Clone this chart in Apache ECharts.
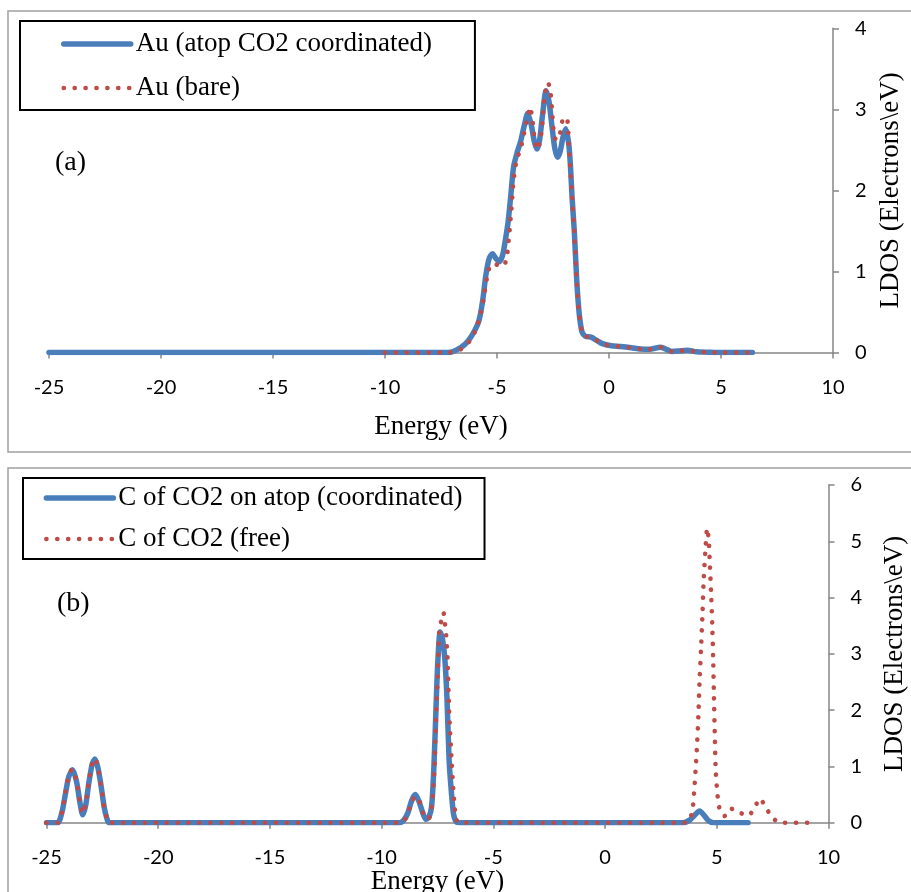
<!DOCTYPE html>
<html>
<head>
<meta charset="utf-8">
<script src="https://cdn.jsdelivr.net/npm/echarts@6/dist/echarts.min.js"></script>
<style>
html,body{margin:0;padding:0;background:#fff;}
#chart{width:911px;height:892px;}
</style>
</head>
<body>
<div id="chart"></div>
<script>
// ---- Data ----
const energyTicks = [-25, -20, -15, -10, -5, 0, 5, 10];
const ldosTicksA = [0, 1, 2, 3, 4];
const ldosTicksB = [0, 1, 2, 3, 4, 5, 6];

// Panel (a): Au (atop CO2 coordinated)
const auEnergyCoord = [-25, -7.4, -7.0, -6.6, -6.3, -6.0, -5.8, -5.64, -5.5, -5.35, -5.2, -5.05, -4.9, -4.75, -4.62, -4.5, -4.38, -4.26, -4.1, -3.95, -3.8, -3.63, -3.48, -3.33, -3.21, -3.1, -2.98, -2.81, -2.68, -2.55, -2.42, -2.3, -2.18, -2.06, -1.93, -1.8, -1.72, -1.65, -1.55, -1.44, -1.33, -1.2, -1.05, -0.8, -0.55, -0.3, 0.1, 0.5, 1.0, 1.4, 1.8, 2.3, 2.8, 3.1, 3.5, 3.9, 4.4, 5.0, 6.4];
const auLdosCoord = [0, 0, 0.01, 0.065, 0.14, 0.27, 0.4, 0.64, 0.95, 1.16, 1.22, 1.16, 1.12, 1.2, 1.4, 1.62, 1.95, 2.29, 2.47, 2.6, 2.78, 2.95, 2.82, 2.6, 2.51, 2.62, 2.9, 3.23, 3.1, 2.8, 2.52, 2.41, 2.48, 2.65, 2.76, 2.58, 2.3, 1.92, 1.5, 0.89, 0.48, 0.25, 0.2, 0.19, 0.15, 0.11, 0.085, 0.075, 0.06, 0.045, 0.04, 0.066, 0.015, 0.02, 0.03, 0.01, 0.005, 0, 0];

// Panel (a): Au (bare)
const auEnergyBare = [-10, -7.2, -6.8, -6.5, -6.2, -5.95, -5.75, -5.6, -5.45, -5.32, -5.15, -4.97, -4.8, -4.67, -4.55, -4.45, -4.36, -4.26, -4.12, -3.95, -3.78, -3.63, -3.53, -3.43, -3.32, -3.2, -3.1, -3.0, -2.88, -2.72, -2.6, -2.52, -2.44, -2.32, -2.2, -2.08, -1.96, -1.86, -1.78, -1.72, -1.65, -1.55, -1.44, -1.33, -1.2, -1.05, -0.8, -0.55, -0.3, 0.1, 0.5, 1.0, 1.4, 1.8, 2.3, 2.8, 3.1, 3.5, 3.9, 4.4, 5.0, 6.4];
const auLdosBare = [0, 0, 0.02, 0.06, 0.15, 0.28, 0.45, 0.66, 0.92, 1.06, 1.1, 1.08, 1.07, 1.08, 1.2, 1.47, 1.75, 2.13, 2.38, 2.51, 2.72, 2.9, 3.03, 2.9, 2.63, 2.5, 2.58, 2.75, 3.15, 3.33, 3.18, 2.9, 2.66, 2.62, 2.68, 2.86, 2.9, 2.88, 2.5, 2.25, 1.92, 1.5, 0.89, 0.48, 0.25, 0.2, 0.19, 0.15, 0.11, 0.085, 0.075, 0.06, 0.045, 0.04, 0.066, 0.015, 0.02, 0.03, 0.01, 0.005, 0, 0];

// Panel (b): C of CO2 on atop (coordinated)
const cEnergyCoord = [-25, -24.5, -24.3, -24.15, -24.0, -23.83, -23.65, -23.5, -23.38, -23.25, -23.1, -22.95, -22.83, -22.7, -22.6, -22.5, -22.42, -22.3, -22.2, -9.2, -9.0, -8.83, -8.65, -8.49, -8.33, -8.18, -8.02, -7.88, -7.76, -7.66, -7.57, -7.49, -7.38, -7.28, -7.18, -7.08, -6.98, -6.88, -6.78, -6.65, -6.5, 3.5, 3.8, 4.0, 4.23, 4.45, 4.65, 4.85, 6.4];
const cLdosCoord = [0, 0, 0.2, 0.52, 0.82, 0.94, 0.72, 0.35, 0.14, 0.3, 0.72, 1.05, 1.13, 0.98, 0.76, 0.5, 0.28, 0.08, 0, 0, 0.05, 0.17, 0.4, 0.5, 0.38, 0.2, 0.06, 0.1, 0.3, 1.0, 2.0, 2.83, 3.39, 3.27, 2.95, 2.25, 1.11, 0.55, 0.15, 0.01, 0, 0, 0.05, 0.13, 0.21, 0.12, 0.03, 0, 0];

// Panel (b): C of CO2 (free)
const cEnergyFree = [-25, -24.5, -24.3, -24.15, -24.0, -23.85, -23.65, -23.5, -23.38, -23.25, -23.1, -22.95, -22.82, -22.7, -22.6, -22.5, -22.42, -22.3, -22.2, -9.2, -9.0, -8.83, -8.65, -8.45, -8.3, -8.15, -8.0, -7.85, -7.74, -7.64, -7.57, -7.49, -7.42, -7.32, -7.23, -7.17, -7.12, -7.05, -6.98, -6.87, -6.78, -6.68, -6.55, 3.6, 3.79, 3.92, 4.0, 4.06, 4.12, 4.18, 4.23, 4.3, 4.36, 4.41, 4.49, 4.57, 4.64, 4.68, 4.75, 4.8, 4.84, 4.87, 4.91, 4.95, 5.01, 5.07, 5.16, 5.35, 5.61, 6.03, 6.38, 6.68, 6.92, 7.19, 7.43, 7.82, 9.3];
const cLdosFree = [0, 0, 0.2, 0.55, 0.84, 0.95, 0.72, 0.36, 0.16, 0.32, 0.74, 1.06, 1.14, 0.98, 0.76, 0.5, 0.28, 0.08, 0, 0, 0.04, 0.15, 0.38, 0.47, 0.38, 0.18, 0.06, 0.1, 0.35, 0.93, 1.82, 2.6, 3.43, 3.6, 3.73, 3.54, 3.37, 2.9, 2.0, 1.1, 0.52, 0.1, 0, 0, 0.06, 0.24, 0.63, 0.99, 1.41, 1.94, 2.53, 3.13, 3.72, 4.28, 4.84, 5.23, 5.02, 4.67, 4.04, 3.48, 2.89, 2.3, 1.56, 0.94, 0.58, 0.37, 0.2, 0.12, 0.25, 0.18, 0.12, 0.25, 0.43, 0.28, 0.12, 0, 0];

const names = {
  auCoord: 'Au (atop CO2 coordinated)',
  auBare: 'Au (bare)',
  cCoord: 'C of CO2 on atop (coordinated)',
  cFree: 'C of CO2 (free)'
};

// ---- Build ----
const zip = (xs, ys) => xs.map((x, i) => [x, ys[i]]);
const BLUE = '#4A7EBB', RED = '#BE4B48', AXIS = '#868686';
const SERIF = '"Liberation Serif", "Times New Roman", serif';
const SANS = 'Lato, "Liberation Sans", sans-serif';
const SOLID_W = 5.5, DOT_W = 4.6, DOT_DASH = [0.1, 10.8];

function xAxis(gi, nameGap, margin) {
  return {
    gridIndex: gi, type: 'value',
    min: energyTicks[0], max: energyTicks[energyTicks.length - 1],
    interval: energyTicks[1] - energyTicks[0],
    axisLine: {show: true, onZero: false, lineStyle: {color: AXIS, width: 1.5}},
    axisTick: {show: true, length: 6, lineStyle: {color: AXIS, width: 1.5}},
    axisLabel: {fontFamily: SANS, fontSize: 20, color: '#000', margin: margin},
    splitLine: {show: false},
    name: 'Energy (eV)', nameLocation: 'middle', nameGap: nameGap,
    nameTextStyle: {fontFamily: SERIF, fontSize: 27, color: '#000'}
  };
}
function yAxis(gi, ticks, nameGap, margin) {
  return {
    gridIndex: gi, type: 'value', position: 'right',
    min: ticks[0], max: ticks[ticks.length - 1], interval: ticks[1] - ticks[0],
    axisLine: {show: true, onZero: false, lineStyle: {color: AXIS, width: 1.5}},
    axisTick: {show: true, length: 6, lineStyle: {color: AXIS, width: 1.5}},
    axisLabel: {fontFamily: SANS, fontSize: 20, color: '#000', margin: margin},
    splitLine: {show: false},
    name: 'LDOS (Electrons\\eV)', nameLocation: 'middle', nameGap: nameGap,
    nameTextStyle: {fontFamily: SERIF, fontSize: 27, color: '#000'}
  };
}
function solid(name, gi, data) {
  return {
    name: name, type: 'line', xAxisIndex: gi, yAxisIndex: gi,
    data: data, symbol: 'none', smooth: 0.25,
    lineStyle: {color: BLUE, width: SOLID_W, cap: 'round', join: 'round'},
    itemStyle: {color: BLUE}
  };
}
function dotted(name, gi, data) {
  return {
    name: name, type: 'line', xAxisIndex: gi, yAxisIndex: gi,
    data: data, symbol: 'none', smooth: 0.25,
    lineStyle: {color: RED, width: DOT_W, type: DOT_DASH, cap: 'round', join: 'round'},
    itemStyle: {color: RED}
  };
}
function legend(solidName, dottedName, left, top, padding, gap) {
  return {
    data: [
      {name: solidName, lineStyle: {width: SOLID_W, color: BLUE, type: 'solid', cap: 'round'}},
      {name: dottedName, lineStyle: {width: DOT_W, color: RED, type: DOT_DASH, cap: 'round'}}
    ],
    orient: 'vertical', left: left, top: top, padding: padding, itemGap: gap,
    itemWidth: 67, itemHeight: 14, borderColor: '#000', borderWidth: 2,
    backgroundColor: '#fff',
    itemStyle: {opacity: 0},
    textStyle: {fontFamily: SERIF, fontSize: 27, color: '#000'}
  };
}

const option = {
  animation: false,
  backgroundColor: '#fff',
  grid: [
    {left: 49, right: 78, top: 28.3, height: 324.3, outerBoundsMode: 'none', containLabel: false},
    {left: 46.5, right: 82.5, top: 485, height: 337.7, outerBoundsMode: 'none', containLabel: false}
  ],
  xAxis: [xAxis(0, 61, 25), xAxis(1, 44, 25)],
  yAxis: [yAxis(0, ldosTicksA, 42, 22), yAxis(1, ldosTicksB, 53, 22)],
  legend: [
    legend(names.auCoord, names.auBare, 20, 21, [9.5, 43, 8.5, 41], 17),
    legend(names.cCoord, names.cFree, 23, 478, [6.5, 22, 6.5, 20.6], 14)
  ],
  graphic: [
    {type: 'rect', silent: true, z: -10, shape: {x: 8, y: 11, width: 950, height: 441},
     style: {fill: 'none', stroke: '#a0a0a0', lineWidth: 1.5}},
    {type: 'rect', silent: true, z: -10, shape: {x: 8, y: 468, width: 950, height: 500},
     style: {fill: 'none', stroke: '#a0a0a0', lineWidth: 1.5}},
    {type: 'text', silent: true, x: 55, y: 163,
     style: {text: '(a)', font: '28px "Liberation Serif"', fill: '#000', verticalAlign: 'middle'}},
    {type: 'text', silent: true, x: 57, y: 604,
     style: {text: '(b)', font: '28px "Liberation Serif"', fill: '#000', verticalAlign: 'middle'}}
  ],
  series: [
    solid(names.auCoord, 0, zip(auEnergyCoord, auLdosCoord)),
    dotted(names.auBare, 0, zip(auEnergyBare, auLdosBare)),
    solid(names.cCoord, 1, zip(cEnergyCoord, cLdosCoord)),
    dotted(names.cFree, 1, zip(cEnergyFree, cLdosFree))
  ]
};

const chart = echarts.init(document.getElementById('chart'), null, {renderer: 'canvas'});
chart.setOption(option);
</script>
</body>
</html>
